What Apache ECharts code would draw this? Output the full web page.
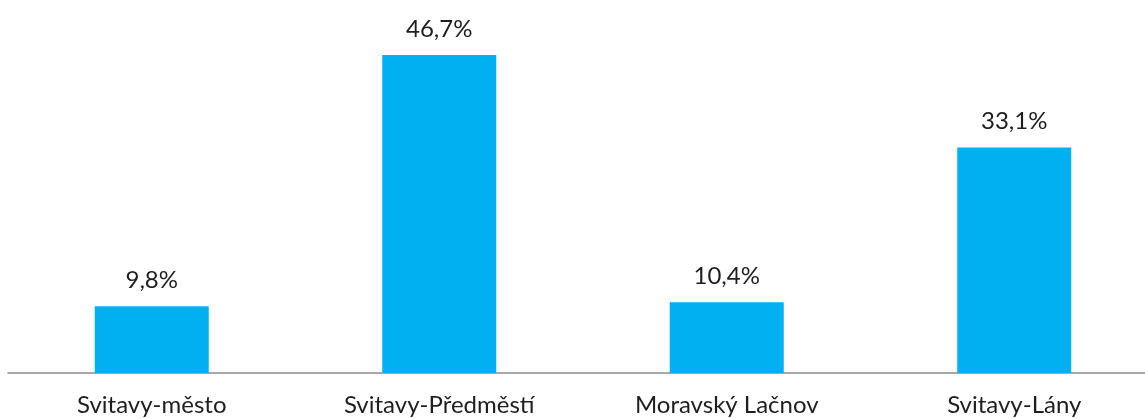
<!DOCTYPE html>
<html>
<head>
<meta charset="utf-8">
<script src="https://cdn.jsdelivr.net/npm/echarts@6/dist/echarts.min.js"></script>
<style>
  html, body { margin: 0; padding: 0; background: #fff; overflow: hidden; }
  #chart { width: 1158px; height: 419px; }
</style>
</head>
<body>
<div id="chart"></div>
<script>
var categories = ['Svitavy-město', 'Svitavy-Předměstí', 'Moravský Lačnov', 'Svitavy-Lány'];
var values = [9.8, 46.7, 10.4, 33.1];

var chart = echarts.init(document.getElementById('chart'));

var option = {
    animation: false,
    grid: {
        left: 8,
        right: 0,
        top: 32.5,
        bottom: 46
    },
    xAxis: {
        type: 'category',
        data: categories,
        axisTick: { show: false },
        axisLine: { lineStyle: { color: '#8c8c8c', width: 1.5 } },
        axisLabel: {
            color: '#1e1e1e',
            fontSize: 24,
            fontFamily: 'Lato',
            margin: 20,
            interval: 0
        }
    },
    yAxis: {
        type: 'value',
        min: 0,
        max: 50,
        show: false
    },
    series: [{
        type: 'bar',
        data: values,
        barWidth: 114,
        itemStyle: { color: '#00b0f0' },
        label: {
            show: true,
            position: 'top',
            distance: 14,
            color: '#1e1e1e',
            fontSize: 24,
            fontFamily: 'Lato',
            formatter: function (p) {
                return p.value.toFixed(1).replace('.', ',') + '%';
            }
        }
    }]
};

chart.setOption(option);
</script>
</body>
</html>
